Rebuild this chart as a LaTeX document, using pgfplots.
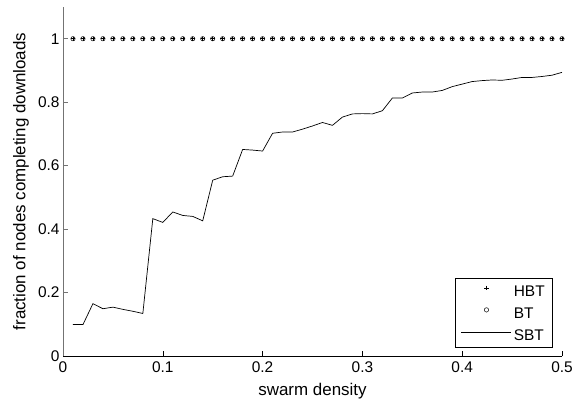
\documentclass[border=0pt]{standalone}
\usepackage{pgfplots}
\pgfplotsset{compat=1.18}
\usepackage{pgfplotstable}
\usepackage{fontspec}
\setmainfont{Liberation Sans}
\definecolor{axgray}{rgb}{0.45,0.45,0.45}
\pgfplotsset{
  markleg/.style={legend image code/.code={\draw[##1] plot coordinates {(25bp,3bp)};}},
  lineleg/.style={legend image code/.code={\draw[##1] (0bp,3bp) -- (50bp,3bp);}},
}
\pgfplotstableread{
x hbt bt sbt
0.01 1 1 0.099
0.02 1 1 0.099
0.03 1 1 0.165
0.04 1 1 0.149
0.05 1 1 0.154
0.06 1 1 0.147
0.07 1 1 0.141
0.08 1 1 0.134
0.09 1 1 0.433
0.10 1 1 0.421
0.11 1 1 0.454
0.12 1 1 0.443
0.13 1 1 0.440
0.14 1 1 0.426
0.15 1 1 0.554
0.16 1 1 0.565
0.17 1 1 0.567
0.18 1 1 0.651
0.19 1 1 0.649
0.20 1 1 0.646
0.21 1 1 0.702
0.22 1 1 0.706
0.23 1 1 0.706
0.24 1 1 0.715
0.25 1 1 0.725
0.26 1 1 0.736
0.27 1 1 0.727
0.28 1 1 0.753
0.29 1 1 0.763
0.30 1 1 0.764
0.31 1 1 0.763
0.32 1 1 0.773
0.33 1 1 0.813
0.34 1 1 0.813
0.35 1 1 0.829
0.36 1 1 0.832
0.37 1 1 0.832
0.38 1 1 0.837
0.39 1 1 0.849
0.40 1 1 0.857
0.41 1 1 0.865
0.42 1 1 0.868
0.43 1 1 0.870
0.44 1 1 0.869
0.45 1 1 0.873
0.46 1 1 0.878
0.47 1 1 0.878
0.48 1 1 0.881
0.49 1 1 0.885
0.50 1 1 0.894
}\datatable
\begin{document}
\begin{tikzpicture}
\path[use as bounding box] (-63bp,-45bp) rectangle (511bp,356bp);
\begin{axis}[
  scale only axis,
  width=499bp, height=349bp,
  xmin=0, xmax=0.5, ymin=0, ymax=1.1,
  axis x line=bottom, axis y line=left,
  x axis line style={-, black, line width=0.6bp},
  y axis line style={-, axgray, line width=0.8bp},
  xtick={0,0.1,0.2,0.3,0.4,0.5},
  ytick={0,0.2,0.4,0.6,0.8,1},
  xticklabels={0,0.1,0.2,0.3,0.4,0.5},
  yticklabels={0,0.2,0.4,0.6,0.8,1},
  /pgf/number format/assume math mode=true,
  tick align=inside,
  major tick length=5bp,
  x tick style={black, line width=0.5bp},
  y tick style={axgray, line width=0.5bp},
  tick label style={font=\fontsize{15.5}{18}\selectfont},
  xticklabel style={yshift=-2bp},
  xlabel={swarm density},
  ylabel={fraction of nodes completing downloads},
  label style={font=\fontsize{17}{20}\selectfont},
  xlabel style={at={(axis description cs:0.5,-0.1138)}, anchor=base},
  ylabel style={at={(axis description cs:-0.0756,0.5)}, anchor=base},
  legend style={at={(axis description cs:0.982,0.0238)}, anchor=south east,
    draw=black, line width=0.6bp, font=\fontsize{15.5}{18}\selectfont,
    inner xsep=6bp, inner ysep=5bp, row sep=7bp,
    nodes={inner sep=2bp, text height=11bp, text depth=0bp}},
  legend cell align=left,
]
\addplot[only marks, mark=+, mark size=2.2bp, mark options={line width=0.5bp}, black, markleg]
  table[x=x, y=hbt] {\datatable};
\addlegendentry{HBT}
\addplot[only marks, mark=o, mark size=2.2bp, mark options={line width=0.5bp}, black, markleg]
  table[x=x, y=bt] {\datatable};
\addlegendentry{BT}
\addplot[black, line width=0.7bp, mark=none, lineleg]
  table[x=x, y=sbt] {\datatable};
\addlegendentry{SBT}
\end{axis}
\end{tikzpicture}
\end{document}
